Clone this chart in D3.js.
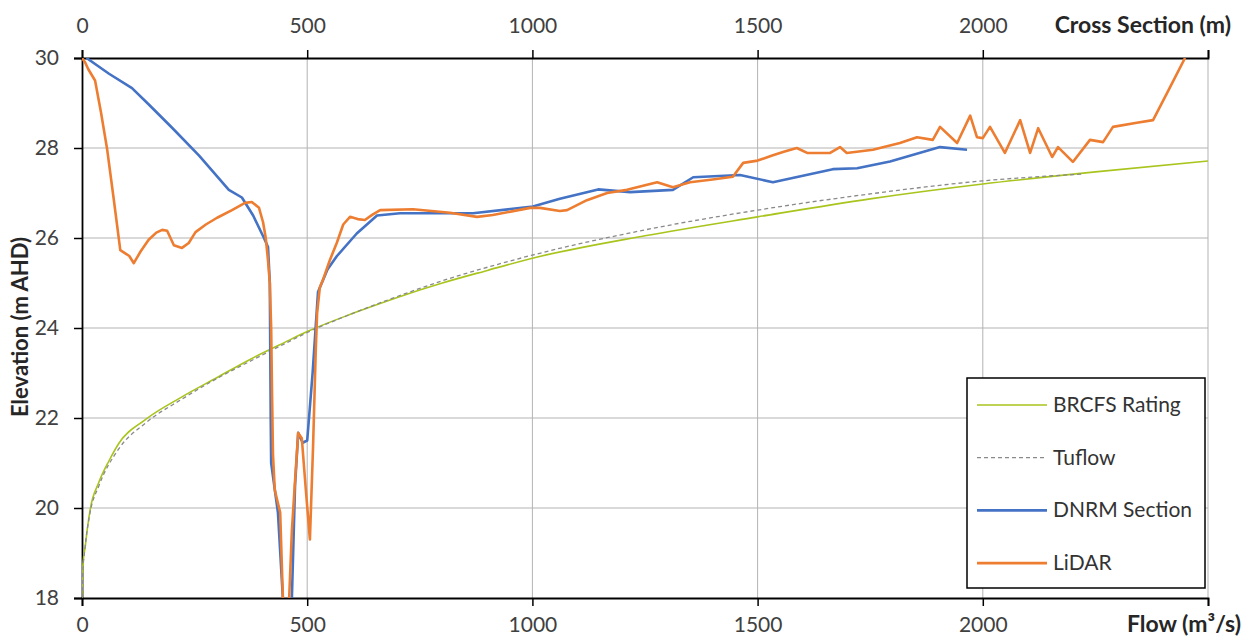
<!DOCTYPE html>
<html>
<head>
<meta charset="utf-8">
<script src="https://cdn.jsdelivr.net/npm/d3@7"></script>
<style>
  html, body { margin: 0; padding: 0; background: #fff; }
  text { font-family: Lato, "Open Sans", sans-serif; }
</style>
</head>
<body>
<div id="chart"></div>
<script>
const WIDTH = 1245;
const HEIGHT = 638;

// axis ticks
const flowTicks = [0, 500, 1000, 1500, 2000, 2500];
const elevTicks = [18, 20, 22, 24, 26, 28, 30];

// [flow m3/s, elevation m AHD]
const ratingPts = [[0,18],[1,18.55],[3,18.85],[7,19.13],[12,19.55],[18,19.96],[37,20.56],[60,21.05],
    [82,21.44],[140,21.96],[222,22.47],[300,22.9],[371,23.29],[450,23.68],[500,23.92],[600,24.32],
    [700,24.68],[800,25.0],[900,25.28],[1000,25.55],[1250,26.05],[1500,26.47],[1750,26.87],
    [2000,27.2],[2250,27.47],[2500,27.71]];

const tuflowPts = [[0,18],[2,18.6],[6,19.05],[18,19.9],[37,20.48],[82,21.32],[140,21.88],[222,22.42],
    [300,22.88],[371,23.25],[450,23.65],[500,23.9],[600,24.32],[700,24.7],[800,25.05],[900,25.35],
    [1000,25.62],[1250,26.18],[1500,26.62],[1750,26.98],[2000,27.27],[2220,27.42]];

// [cross section chainage m, elevation m AHD]
const dnrmPts = [[10,30.0],[60,29.65],[111,29.33],[150,28.95],[200,28.45],[260,27.83],[326,27.07],
    [355,26.9],[380,26.5],[404,26.0],[413,25.8],[417,25.0],[418,23.5],[419,22.0],[420,21.0],
    [435,19.9],[446,18.0],[455,17.3],[466,18.0],[473,20.5],[480,21.67],[490,21.45],[500,21.5],
    [512,23.0],[524,24.8],[545,25.3],[566,25.6],[610,26.1],[655,26.5],[706,26.55],[868,26.55],
    [1001,26.7],[1061,26.87],[1146,27.08],[1217,27.02],[1312,27.07],[1357,27.35],[1461,27.4],
    [1534,27.24],[1667,27.53],[1721,27.55],[1794,27.7],[1905,28.02],[1965,27.96]];

const lidarPts = [[0,30.0],[7,29.9],[14,29.75],[29,29.5],[42,28.8],[56,27.96],[70,26.9],[85,25.73],
    [96,25.66],[105,25.6],[115,25.44],[130,25.7],[148,25.96],[165,26.12],[178,26.18],[189,26.16],
    [204,25.84],[222,25.78],[237,25.89],[252,26.13],[275,26.3],[300,26.45],[333,26.62],[362,26.78],
    [377,26.8],[393,26.67],[402,26.35],[408,26.0],[413,25.5],[417,25.0],[420,24.0],[422,22.5],
    [424,21.2],[428,20.4],[440,19.9],[446,18.0],[452,17.0],[460,18.0],[466,19.5],[473,20.6],
    [480,21.67],[488,21.55],[497,20.4],[506,19.3],[513,21.36],[519,23.5],[522,24.33],[528,24.9],
    [535,25.07],[550,25.5],[566,25.9],[580,26.3],[595,26.47],[612,26.42],[628,26.4],[645,26.52],
    [662,26.62],[735,26.64],[817,26.56],[877,26.47],[912,26.51],[995,26.67],[1017,26.67],
    [1061,26.6],[1077,26.62],[1121,26.84],[1166,27.0],[1210,27.07],[1277,27.24],[1312,27.13],
    [1350,27.24],[1400,27.3],[1445,27.36],[1468,27.67],[1500,27.72],[1534,27.84],[1560,27.92],
    [1587,28.0],[1610,27.89],[1661,27.89],[1683,28.02],[1698,27.89],[1756,27.96],[1816,28.11],
    [1854,28.24],[1889,28.18],[1905,28.47],[1943,28.11],[1972,28.72],[1987,28.24],[2000,28.22],
    [2016,28.47],[2049,27.89],[2083,28.62],[2105,27.89],[2123,28.44],[2154,27.8],[2167,28.02],
    [2200,27.69],[2238,28.18],[2267,28.13],[2289,28.47],[2342,28.56],[2378,28.62],[2409,29.22],
    [2449,30.0]];

const legendItems = [
    {name: "BRCFS Rating", color: "#a9c41c", width: 1.6, dash: null, smooth: true},
    {name: "Tuflow", color: "#8a8a8a", width: 1.3, dash: "4,3", smooth: true},
    {name: "DNRM Section", color: "#4472c4", width: 2.6, dash: null, smooth: false},
    {name: "LiDAR", color: "#ed7d31", width: 2.6, dash: null, smooth: false}
];

function setup(){
    let svg = d3.select("#chart")
        .append("svg")
        .attr("width", WIDTH)
        .attr("height", HEIGHT);

    let left = 82, right = 1208, top = 58, bottom = 598;

    let x = d3.scaleLinear().domain([0, 2500]).range([left, right]);
    let y = d3.scaleLinear().domain([18, 30]).range([bottom, top]);

    // grid
    svg.append("g")
        .selectAll("line.vgrid")
        .data(flowTicks.slice(1))
        .enter()
        .append("line")
        .attr("x1", d => x(d)).attr("x2", d => x(d))
        .attr("y1", top).attr("y2", bottom)
        .style("stroke", "#b3b3b3")
        .style("stroke-width", 1);

    svg.append("g")
        .selectAll("line.hgrid")
        .data(elevTicks.slice(1, -1))
        .enter()
        .append("line")
        .attr("x1", left).attr("x2", right)
        .attr("y1", d => y(d)).attr("y2", d => y(d))
        .style("stroke", "#b3b3b3")
        .style("stroke-width", 1);

    // axes
    let fmt = d => d === 2500 ? "" : d;
    let bottomAxis = svg.append("g")
        .attr("transform", `translate(0,${bottom})`)
        .call(d3.axisBottom(x).tickValues(flowTicks).tickFormat(fmt).tickSizeOuter(0).tickSize(8).tickPadding(11));
    let topAxis = svg.append("g")
        .attr("transform", `translate(0,${top})`)
        .call(d3.axisTop(x).tickValues(flowTicks).tickFormat(fmt).tickSizeOuter(0).tickSize(8).tickPadding(17));
    let leftAxis = svg.append("g")
        .attr("transform", `translate(${left},0)`)
        .call(d3.axisLeft(y).tickValues(elevTicks).tickSizeOuter(0).tickSize(8).tickPadding(15));

    [bottomAxis, topAxis, leftAxis].forEach(a => {
        a.select(".domain").style("stroke", "#000").style("stroke-width", 1.8);
        a.selectAll(".tick line").style("stroke", "#000").style("stroke-width", 1.5);
        a.selectAll(".tick text")
            .style("font-family", "Lato, sans-serif")
            .style("font-size", "21px")
            .style("fill", "#404040");
    });

    // series
    svg.append("clipPath").attr("id", "plotclip")
        .append("rect")
        .attr("x", left).attr("y", top)
        .attr("width", right - left).attr("height", bottom - top);

    let line = d3.line().x(d => x(d[0])).y(d => y(d[1]));
    let smoothLine = d3.line().x(d => x(d[0])).y(d => y(d[1])).curve(d3.curveMonotoneX);
    let plot = svg.append("g").attr("clip-path", "url(#plotclip)");

    let series = [ratingPts, tuflowPts, dnrmPts, lidarPts];
    series.forEach((pts, i) => {
        let it = legendItems[i];
        plot.append("path")
            .datum(pts)
            .attr("d", it.smooth ? smoothLine : line)
            .style("fill", "none")
            .style("stroke", it.color)
            .style("stroke-width", it.width)
            .style("stroke-linejoin", "round")
            .style("stroke-dasharray", it.dash);
    });

    // axis titles
    svg.append("text")
        .attr("x", 1231).attr("y", 33)
        .attr("text-anchor", "end")
        .style("font-size", "23px").style("font-weight", "bold").style("fill", "#262626")
        .text("Cross Section (m)");

    svg.append("text")
        .attr("x", 1241).attr("y", 632)
        .attr("text-anchor", "end")
        .style("font-size", "23px").style("font-weight", "bold").style("fill", "#262626")
        .text("Flow (m³/s)");

    svg.append("text")
        .attr("transform", "translate(28,327) rotate(-90)")
        .attr("text-anchor", "middle")
        .style("font-size", "22px").style("font-weight", "bold").style("fill", "#262626")
        .text("Elevation (m AHD)");

    // legend
    let legend = svg.append("g");
    legend.append("rect")
        .attr("x", 967).attr("y", 378)
        .attr("width", 238).attr("height", 210)
        .style("fill", "#fff")
        .style("stroke", "#000")
        .style("stroke-width", 1.5);

    let rows = legend.selectAll("g.row")
        .data(legendItems)
        .enter()
        .append("g")
        .attr("transform", (d, i) => `translate(977,${405 + i * 52.7})`);

    rows.append("line")
        .attr("x1", 0).attr("x2", 70)
        .style("stroke", d => d.color)
        .style("stroke-width", d => d.width)
        .style("stroke-dasharray", d => d.dash);

    rows.append("text")
        .attr("x", 76).attr("y", 7)
        .style("font-size", "21px")
        .style("fill", "#333")
        .text(d => d.name);
}

window.addEventListener("load", setup);
</script>
</body>
</html>
